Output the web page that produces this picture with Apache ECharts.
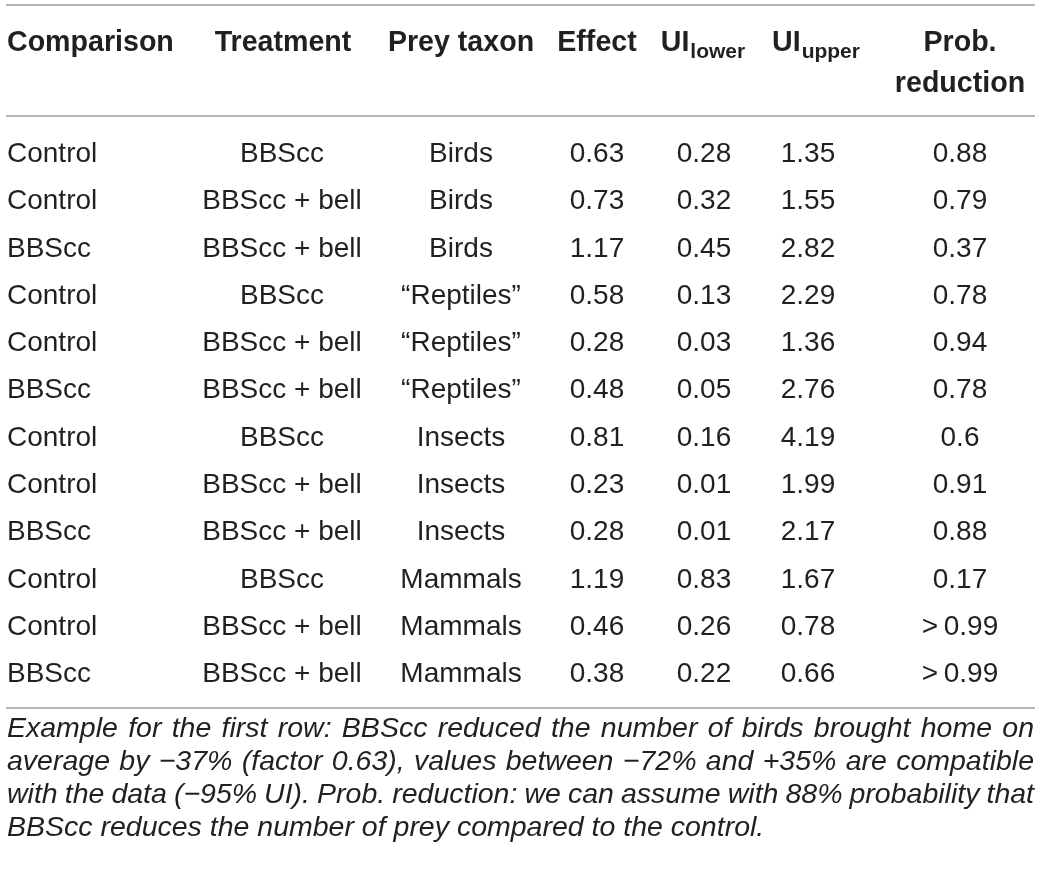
<!DOCTYPE html>
<html><head><meta charset="utf-8">
<script src="https://cdn.jsdelivr.net/npm/echarts@6/dist/echarts.min.js"></script>
<style>html,body{margin:0;padding:0;background:#fff}#c{width:1040px;height:869px}</style>
</head><body><div id="c"></div>
<script>
const comparison = ['Control','Control','BBScc','Control','Control','BBScc','Control','Control','BBScc','Control','Control','BBScc'];
const treatment = ['BBScc','BBScc + bell','BBScc + bell','BBScc','BBScc + bell','BBScc + bell','BBScc','BBScc + bell','BBScc + bell','BBScc','BBScc + bell','BBScc + bell'];
const preyTaxon = ['Birds','Birds','Birds','\u201CReptiles\u201D','\u201CReptiles\u201D','\u201CReptiles\u201D','Insects','Insects','Insects','Mammals','Mammals','Mammals'];
const effect = ['0.63','0.73','1.17','0.58','0.28','0.48','0.81','0.23','0.28','1.19','0.46','0.38'];
const uiLower = ['0.28','0.32','0.45','0.13','0.03','0.05','0.16','0.01','0.01','0.83','0.26','0.22'];
const uiUpper = ['1.35','1.55','2.82','2.29','1.36','2.76','4.19','1.99','2.17','1.67','0.78','0.66'];
const probReduction = ['0.88','0.79','0.37','0.78','0.94','0.78','0.6','0.91','0.88','0.17','>\u20090.99','>\u20090.99'];
const headerLabels = ['Comparison','Treatment','Prey taxon','Effect'];
const uiHeaders = [['UI','lower'],['UI','upper']];
const probHeader = ['Prob.','reduction'];
const footnoteLines = [
 'Example for the first row: BBScc reduced the number of birds brought home on',
 'average by \u221237% (factor 0.63), values between \u221272% and +35% are compatible',
 'with the data (\u221295% UI). Prob. reduction: we can assume with 88% probability that',
 'BBScc reduces the number of prey compared to the control.'
];

const TXT = '#231f20';
const FAM = '"Liberation Sans", Arial, Helvetica, sans-serif';
const BODY = 28, HEAD = 28.6, SUB = 21;
const ROW0 = 154.2, ROWH = 47.3;
const L = 6, R = 1035;

const cv = document.createElement('canvas').getContext('2d');
function tw(t, size, weight, style){ cv.font = (style||'normal')+' '+(weight||'normal')+' '+size+'px '+FAM; return cv.measureText(t).width; }

const columns = [
 {vals: comparison, x: 7, align: 'left'},
 {vals: treatment, x: 282, align: 'center'},
 {vals: preyTaxon, x: 461, align: 'center'},
 {vals: effect, x: 597, align: 'center'},
 {vals: uiLower, x: 704, align: 'center'},
 {vals: uiUpper, x: 808, align: 'center'},
 {vals: probReduction, x: 960, align: 'center'}
];

const series = columns.map(c => ({
 type: 'scatter', symbolSize: 1, silent: true,
 itemStyle: {color: 'rgba(0,0,0,0)', opacity: 1},
 label: {show: true, position: 'inside', align: c.align, verticalAlign: 'middle',
   color: TXT, fontSize: BODY, fontFamily: FAM, fontWeight: 'normal', opacity: 1,
   formatter: p => p.value[2]},
 data: c.vals.map((v, i) => ({value: [c.x, i, v]}))
}));

const g = [];
function line(y){ g.push({type:'line', shape:{x1:L,y1:y,x2:R,y2:y}, style:{stroke:'#9b9b9b', lineWidth:1.5}, silent:true}); }
function text(t, x, y, opt){
 g.push({type:'text', x:x, y:y, silent:true, style: Object.assign({text:t, fill:TXT, fontSize:HEAD, fontWeight:'bold', fontFamily:FAM, align:'center', verticalAlign:'middle'}, opt||{})});
}
line(5); line(116); line(708);

const HY = 43.5;
text(headerLabels[0], 7, HY, {align:'left'});
text(headerLabels[1], 283, HY);
text(headerLabels[2], 461, HY);
text(headerLabels[3], 597, HY);
[[uiHeaders[0], 703], [uiHeaders[1], 816]].forEach(([h, cx]) => {
 const w1 = tw(h[0], HEAD, 'bold'), w2 = tw(h[1], SUB, 'bold');
 const x0 = cx - (w1 + w2 + 1) / 2;
 text(h[0], x0, HY, {align:'left'});
 text(h[1], x0 + w1 + 1, HY + 9, {align:'left', fontSize: SUB});
});
text(probHeader[0], 960, HY);
text(probHeader[1], 960, 84);

// footnote, justified
const avail = R - 1 - 7;
let FN = 28.5;
footnoteLines.slice(0, -1).forEach(ln => {
 const words = ln.split(' ');
 const w1 = words.reduce((a, w) => a + tw(w, 1, 'normal', 'italic'), 0);
 const need = avail / (w1 + (words.length - 1) * 0.2);
 if (need < FN) FN = need;
});
FN = Math.floor(FN * 10) / 10;
const FY = [729.5, 762.5, 795.5, 828.5];
footnoteLines.forEach((ln, k) => {
 const words = ln.split(' ');
 const ws = words.map(w => tw(w, FN, 'normal', 'italic'));
 const total = ws.reduce((a, b) => a + b, 0);
 const last = k === footnoteLines.length - 1;
 const gap = last ? tw(' ', FN, 'normal', 'italic') : (avail - total) / (words.length - 1);
 let x = 7;
 words.forEach((w, i) => {
  text(w, x, FY[k], {align:'left', fontWeight:'normal', fontStyle:'italic', fontSize: FN});
  x += ws[i] + gap;
 });
});

const chart = echarts.init(document.getElementById('c'));
chart.setOption({
 animation: false,
 backgroundColor: '#fff',
 grid: {left: 0, right: 0, top: ROW0 - ROWH / 2, height: ROWH * comparison.length},
 xAxis: {type: 'value', min: 0, max: 1040, show: false},
 yAxis: {type: 'category', data: comparison.map((_, i) => String(i)), inverse: true, show: false},
 series: series,
 graphic: g
});
</script></body></html>
